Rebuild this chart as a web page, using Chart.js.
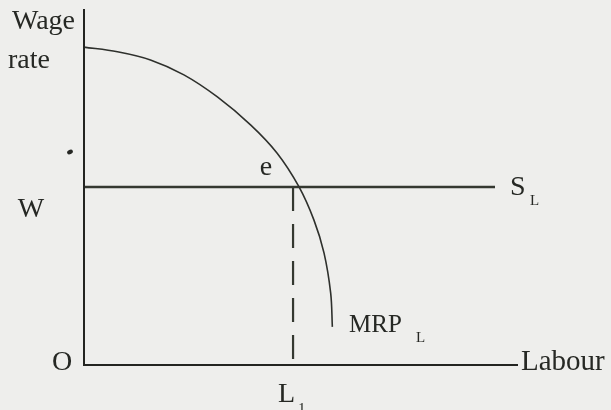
<!DOCTYPE html>
<html>
<head>
<meta charset="utf-8">
<script src="https://cdn.jsdelivr.net/npm/chart.js@4"></script>
<style>
  html, body { margin: 0; padding: 0; background: #eeeeec; }
  #wrap { width: 611px; height: 410px; position: relative; }
</style>
</head>
<body>
<div id="wrap"><canvas id="chart" width="611" height="410"></canvas></div>
<script>
// ── Labour market: MRP_L curve vs flat supply S_L ──
const labourMax = 10.38;     // end of the Labour axis
const wageMax = 10;          // top of the Wage rate axis
const wageW = 5;             // market wage W
const labourL1 = 5;          // equilibrium employment L1
const supplyEnd = 9.83;      // where the S_L line stops

// MRP_L (labour, wage)
const mrpLabour = [0, 0.8, 1.59, 2.39, 3.19, 3.99, 4.62, 5.14, 5.5, 5.74, 5.9, 5.94];
const mrpWage   = [8.93, 8.8, 8.57, 8.15, 7.53, 6.74, 5.95, 5.01, 4.07, 3.15, 2.02, 1.07];

const ink = '#262824';
const serif = '"Liberation Serif", "DejaVu Serif", serif';

// ── axes, labels and the stray dot of the scan ──
const diagramPlugin = {
  id: 'diagram',
  afterDatasetsDraw(chart) {
    const { ctx, scales: { x, y } } = chart;
    const x0 = x.getPixelForValue(0), y0 = y.getPixelForValue(0);
    ctx.save();
    ctx.strokeStyle = '#232421';
    ctx.lineWidth = 2;
    ctx.beginPath();
    ctx.moveTo(x0, y.getPixelForValue(wageMax));
    ctx.lineTo(x0, y0);
    ctx.lineTo(x.getPixelForValue(labourMax), y0);
    ctx.stroke();

    ctx.fillStyle = ink;
    ctx.textBaseline = 'alphabetic';
    const put = (t, px, py, size, align) => {
      ctx.font = `${size}px ${serif}`;
      ctx.textAlign = align || 'left';
      ctx.fillText(t, px, py);
    };
    put('Wage', 12, 29, 28);
    put('rate', 8, 68, 28);
    put('W', 31, y.getPixelForValue(wageW) + 30, 28, 'center');
    put('O', 52, y0 + 5, 28);
    put('e', 266, y.getPixelForValue(wageW) - 12, 28, 'center');
    put('S', 510, y.getPixelForValue(wageW) + 8, 28);
    put('L', 530, y.getPixelForValue(wageW) + 18, 15);
    put('MRP', 349, 332, 25);
    put('L', 416, 342, 15);
    put('Labour', 521, y0 + 5, 29);
    put('L', 278, 402, 28);
    put('1', 298, 413, 15);

    ctx.beginPath();
    ctx.ellipse(70, 152, 3, 2.2, -0.4, 0, Math.PI * 2);
    ctx.fill();
    ctx.restore();
  }
};

new Chart(document.getElementById('chart'), {
  type: 'scatter',
  data: {
    datasets: [
      {
        label: 'MRP_L',
        data: mrpLabour.map((l, i) => ({ x: l, y: mrpWage[i] })),
        showLine: true,
        borderColor: '#2e302c',
        borderWidth: 1.6,
        pointRadius: 0,
        tension: 0.35,
        clip: false,
      },
      {
        label: 'S_L',
        data: [{ x: 0, y: wageW }, { x: supplyEnd, y: wageW }],
        showLine: true,
        borderColor: '#343830',
        borderWidth: 2.4,
        pointRadius: 0,
        clip: false,
      },
      {
        label: 'L1',
        data: [{ x: labourL1, y: wageW }, { x: labourL1, y: 0 }],
        showLine: true,
        borderColor: '#343830',
        borderWidth: 2.2,
        borderDash: [24, 13],
        pointRadius: 0,
        clip: false,
      },
    ]
  },
  options: {
    responsive: false,
    animation: false,
    layout: { padding: { left: 84, right: 93, top: 9, bottom: 45 } },
    plugins: { legend: { display: false }, tooltip: { enabled: false } },
    scales: {
      x: { type: 'linear', display: false, min: 0, max: labourMax },
      y: { type: 'linear', display: false, min: 0, max: wageMax }
    }
  },
  plugins: [diagramPlugin]
});
</script>
</body>
</html>
